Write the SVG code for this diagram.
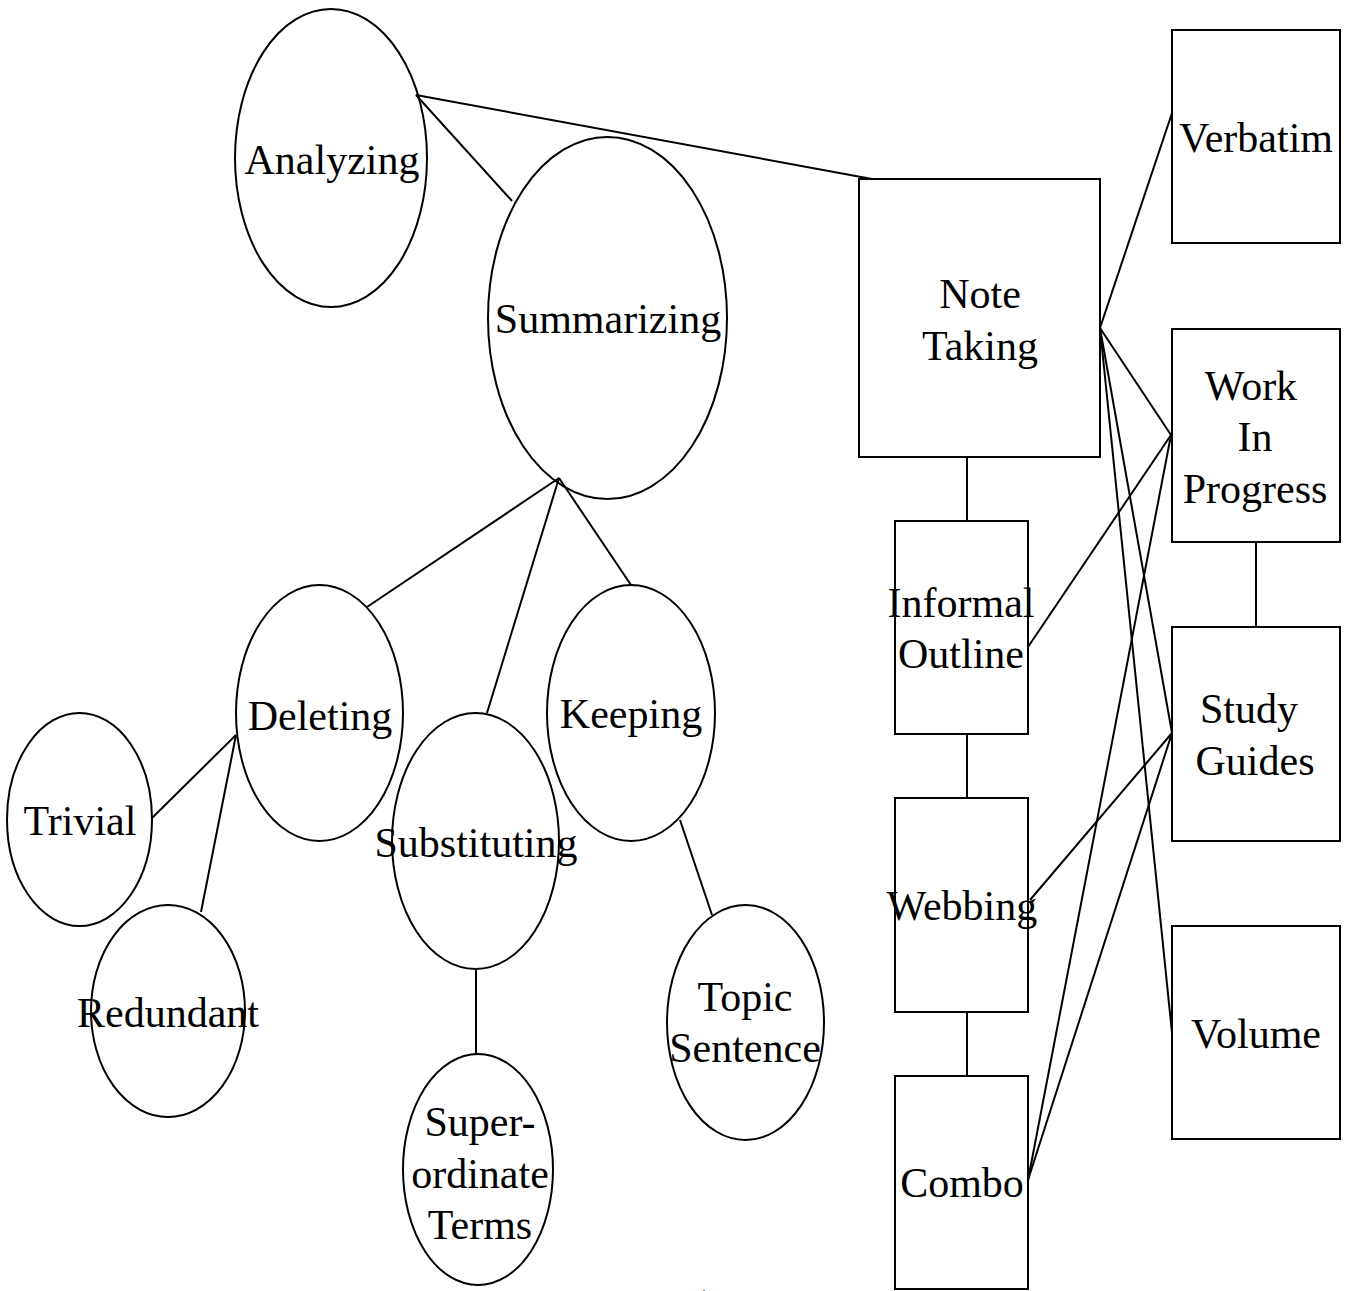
<svg xmlns="http://www.w3.org/2000/svg" width="1349" height="1291" viewBox="0 0 1349 1291" font-family="'Liberation Serif', 'DejaVu Serif', serif">
<style>
  .shape { fill: none; stroke: #000; stroke-width: 2; }
  .edge { stroke: #000; stroke-width: 2; fill: none; }
  .t { font-family: 'Liberation Serif', 'DejaVu Serif', serif; font-size: 42px; fill: #000; text-anchor: middle; }
</style>
<rect x="0" y="0" width="1349" height="1291" fill="#fff"/>
<g id="connectors">
  <line class="edge" x1="416" y1="95" x2="872" y2="179"/>
  <line class="edge" x1="416" y1="95" x2="512" y2="201"/>
  <line class="edge" x1="559" y1="478" x2="367" y2="607"/>
  <line class="edge" x1="559" y1="478" x2="487" y2="713"/>
  <line class="edge" x1="559" y1="478" x2="631" y2="585"/>
  <line class="edge" x1="236" y1="735" x2="152" y2="818"/>
  <line class="edge" x1="236" y1="735" x2="201" y2="912"/>
  <line class="edge" x1="680" y1="820" x2="712" y2="915"/>
  <line class="edge" x1="476" y1="969" x2="476" y2="1054"/>
  <line class="edge" x1="1100" y1="328" x2="1172" y2="113"/>
  <line class="edge" x1="1100" y1="328" x2="1171" y2="435"/>
  <line class="edge" x1="1100" y1="328" x2="1172" y2="733"/>
  <line class="edge" x1="1100" y1="328" x2="1172" y2="1033"/>
  <line class="edge" x1="1171" y1="435" x2="1028" y2="647"/>
  <line class="edge" x1="1171" y1="435" x2="1028" y2="1180"/>
  <line class="edge" x1="1172" y1="733" x2="1030" y2="900"/>
  <line class="edge" x1="1172" y1="733" x2="1028" y2="1180"/>
  <line class="edge" x1="967" y1="457" x2="967" y2="521"/>
  <line class="edge" x1="967" y1="734" x2="967" y2="798"/>
  <line class="edge" x1="967" y1="1012" x2="967" y2="1076"/>
  <line class="edge" x1="1256" y1="542" x2="1256" y2="627"/>
</g>
<g id="analyzing">
  <ellipse class="shape" cx="331" cy="158" rx="96" ry="149"/>
  <text class="t" x="332" y="174">Analyzing</text>
</g>
<g id="summarizing">
  <ellipse class="shape" cx="607.5" cy="318" rx="119.5" ry="181"/>
  <text class="t" x="608" y="333">Summarizing</text>
</g>
<g id="deleting">
  <ellipse class="shape" cx="319.5" cy="713" rx="83.5" ry="128"/>
  <text class="t" x="320" y="730">Deleting</text>
</g>
<g id="trivial">
  <ellipse class="shape" cx="79.5" cy="819.5" rx="72.5" ry="106.5"/>
  <text class="t" x="80" y="835">Trivial</text>
</g>
<g id="redundant">
  <ellipse class="shape" cx="168" cy="1011" rx="77" ry="106"/>
  <text class="t" x="168" y="1027">Redundant</text>
</g>
<g id="substituting">
  <ellipse class="shape" cx="475.5" cy="841" rx="83.5" ry="128"/>
  <text class="t" x="476" y="857">Substituting</text>
</g>
<g id="superordinate">
  <ellipse class="shape" cx="478" cy="1169.5" rx="75" ry="115.5"/>
  <text class="t" x="480" y="1136">Super-</text>
  <text class="t" x="480" y="1188">ordinate</text>
  <text class="t" x="480" y="1239">Terms</text>
</g>
<g id="keeping">
  <ellipse class="shape" cx="631" cy="713" rx="84" ry="128"/>
  <text class="t" x="631" y="728">Keeping</text>
</g>
<g id="topic">
  <ellipse class="shape" cx="745.5" cy="1022.5" rx="78.5" ry="117.5"/>
  <text class="t" x="745" y="1011">Topic</text>
  <text class="t" x="745" y="1062">Sentence</text>
</g>
<g id="notetaking">
  <rect class="shape" x="859" y="179" width="241" height="278"/>
  <text class="t" x="980" y="308">Note</text>
  <text class="t" x="980" y="360">Taking</text>
</g>
<g id="informal">
  <rect class="shape" x="895" y="521" width="133" height="213"/>
  <text class="t" x="961" y="617">Informal</text>
  <text class="t" x="961" y="668">Outline</text>
</g>
<g id="webbing">
  <rect class="shape" x="895" y="798" width="133" height="214"/>
  <text class="t" x="962" y="920">Webbing</text>
</g>
<g id="combo">
  <rect class="shape" x="895" y="1076" width="133" height="213"/>
  <text class="t" x="962" y="1197">Combo</text>
</g>
<g id="verbatim">
  <rect class="shape" x="1172" y="30" width="168" height="213"/>
  <text class="t" x="1256" y="152">Verbatim</text>
</g>
<g id="workinprogress">
  <rect class="shape" x="1172" y="329" width="168" height="213"/>
  <text class="t" x="1251" y="400">Work</text>
  <text class="t" x="1255" y="451">In</text>
  <text class="t" x="1255" y="503">Progress</text>
</g>
<g id="studyguides">
  <rect class="shape" x="1172" y="627" width="168" height="214"/>
  <text class="t" x="1249" y="723">Study</text>
  <text class="t" x="1255" y="775">Guides</text>
</g>
<g id="volume">
  <rect class="shape" x="1172" y="926" width="168" height="213"/>
  <text class="t" x="1256" y="1048">Volume</text>
</g>
<text class="t" x="704" y="1291" style="font-size:10px">.</text>
</svg>
